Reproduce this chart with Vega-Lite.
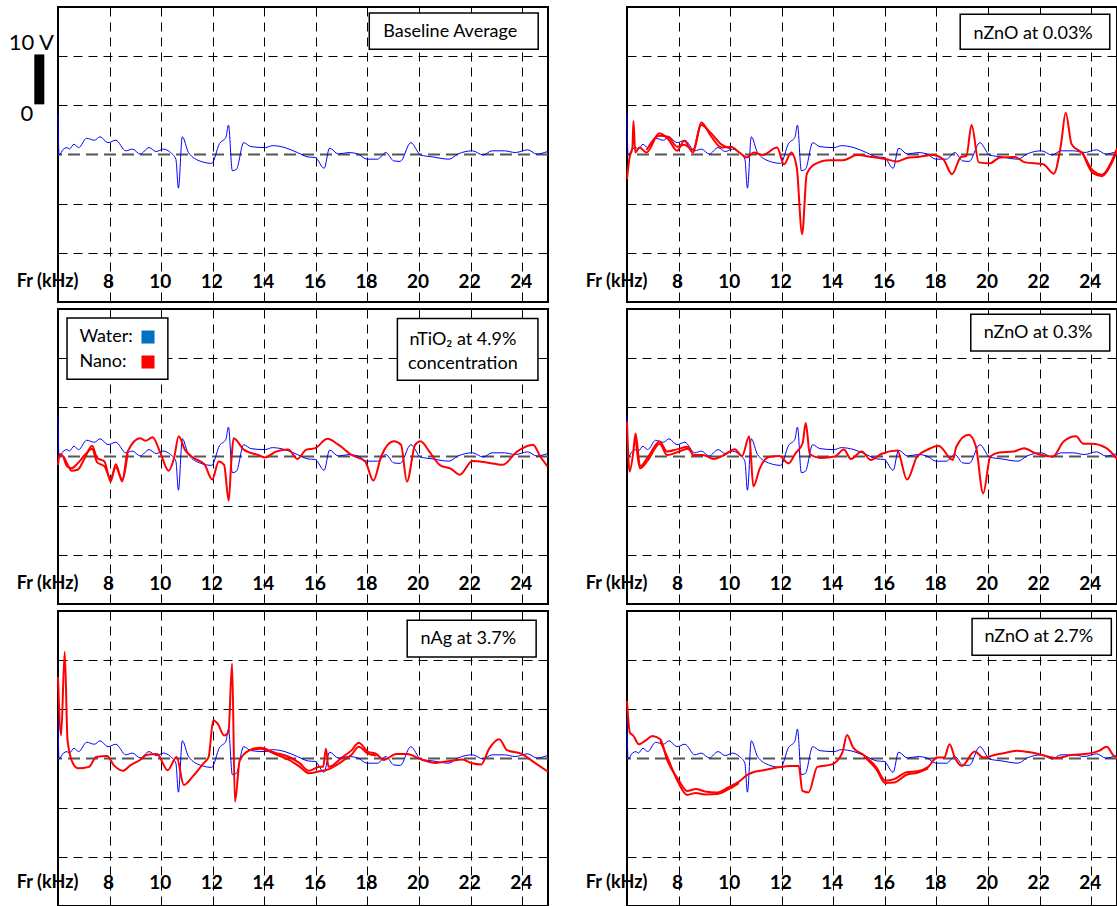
{
 "$schema": "https://vega.github.io/schema/vega-lite/v6.json",
 "autosize": {"type": "pad"},
 "padding": {"left": 7, "top": 6, "right": 0, "bottom": 0},
 "background": "white",
 "bounds": "flush",
 "columns": 2,
 "spacing": {"row": 7, "column": 79},
 "datasets": {
  "water": [
   {"f":6.0,"v":8.2},{"f":6.04,"v":-0.1},{"f":6.21,"v":1.1},{"f":6.35,"v":1.4},{"f":6.44,"v":1.1},{"f":6.62,"v":2.1},{"f":6.8,"v":1.4},{"f":7.11,"v":3.3},{"f":7.41,"v":2.9},{"f":7.63,"v":3.6},{"f":7.94,"v":2.4},{"f":8.24,"v":2.9},{"f":8.63,"v":0.75},{"f":8.88,"v":1.1},{"f":9.19,"v":0.1},{"f":9.53,"v":1.4},{"f":9.81,"v":0.6},{"f":10.09,"v":1.1},{"f":10.36,"v":0.4},{"f":10.57,"v":-0.95},{"f":10.67,"v":-6.85},{"f":10.82,"v":3.6},{"f":11.06,"v":0.4},{"f":11.54,"v":-1.4},{"f":11.96,"v":-1.8},{"f":12.26,"v":2.2},{"f":12.51,"v":3.5},{"f":12.61,"v":6.0},{"f":12.76,"v":-3.3},{"f":12.92,"v":-3.0},{"f":13.2,"v":2.4},{"f":13.48,"v":1.6},{"f":14.03,"v":1.4},{"f":14.31,"v":1.8},{"f":14.8,"v":1.4},{"f":15.28,"v":0.4},{"f":15.7,"v":-0.5},{"f":15.97,"v":-0.6},{"f":16.32,"v":-2.8},{"f":16.53,"v":1.3},{"f":16.87,"v":0.1},{"f":17.29,"v":0.4},{"f":17.63,"v":0.1},{"f":17.98,"v":-0.95},{"f":18.39,"v":-0.95},{"f":18.71,"v":0.4},{"f":19.02,"v":-1.3},{"f":19.27,"v":-1.4},{"f":19.68,"v":2.4},{"f":20.06,"v":-0.1},{"f":20.54,"v":-0.5},{"f":21.16,"v":-0.95},{"f":21.51,"v":0.1},{"f":22.07,"v":0.75},{"f":22.48,"v":-0.1},{"f":22.83,"v":0.75},{"f":23.31,"v":0.75},{"f":23.73,"v":0.4},{"f":24.21,"v":0.95},{"f":24.56,"v":0.1},{"f":24.98,"v":0.6}
  ],
  "nano": [
   {"panel":"zn003","run":"a","f":6.0,"v":-5.0},{"panel":"zn003","run":"a","f":6.1,"v":-0.6},{"panel":"zn003","run":"a","f":6.21,"v":1.4},{"panel":"zn003","run":"a","f":6.25,"v":6.8},{"panel":"zn003","run":"a","f":6.32,"v":0.4},{"panel":"zn003","run":"a","f":6.48,"v":1.4},{"panel":"zn003","run":"a","f":6.76,"v":0.4},{"panel":"zn003","run":"a","f":7.25,"v":4.3},{"panel":"zn003","run":"a","f":7.6,"v":3.1},{"panel":"zn003","run":"a","f":7.94,"v":0.75},{"panel":"zn003","run":"a","f":8.22,"v":2.8},{"panel":"zn003","run":"a","f":8.56,"v":0.4},{"panel":"zn003","run":"a","f":8.88,"v":6.5},{"panel":"zn003","run":"a","f":9.25,"v":3.8},{"panel":"zn003","run":"a","f":9.67,"v":1.4},{"panel":"zn003","run":"a","f":10.02,"v":1.6},{"panel":"zn003","run":"a","f":10.36,"v":0.4},{"panel":"zn003","run":"a","f":10.64,"v":-0.6},{"panel":"zn003","run":"a","f":10.92,"v":0.4},{"panel":"zn003","run":"a","f":11.26,"v":-0.1},{"panel":"zn003","run":"a","f":11.82,"v":1.4},{"panel":"zn003","run":"a","f":12.09,"v":-2.0},{"panel":"zn003","run":"a","f":12.37,"v":0.4},{"panel":"zn003","run":"a","f":12.58,"v":-2.6},{"panel":"zn003","run":"a","f":12.79,"v":-16.2},{"panel":"zn003","run":"a","f":12.97,"v":-4.0},{"panel":"zn003","run":"a","f":13.27,"v":-2.0},{"panel":"zn003","run":"a","f":13.83,"v":-1.15},{"panel":"zn003","run":"a","f":14.38,"v":-1.15},{"panel":"zn003","run":"a","f":14.93,"v":-0.1},{"panel":"zn003","run":"a","f":15.49,"v":-0.5},{"panel":"zn003","run":"a","f":16.04,"v":-0.95},{"panel":"zn003","run":"a","f":16.46,"v":-1.4},{"panel":"zn003","run":"a","f":16.94,"v":-0.6},{"panel":"zn003","run":"a","f":17.29,"v":-0.5},{"panel":"zn003","run":"a","f":17.84,"v":-0.1},{"panel":"zn003","run":"a","f":18.26,"v":-0.95},{"panel":"zn003","run":"a","f":18.6,"v":-4.0},{"panel":"zn003","run":"a","f":18.95,"v":-0.5},{"panel":"zn003","run":"a","f":19.16,"v":-0.3},{"panel":"zn003","run":"a","f":19.36,"v":6.0},{"panel":"zn003","run":"a","f":19.64,"v":-1.6},{"panel":"zn003","run":"a","f":20.06,"v":-1.8},{"panel":"zn003","run":"a","f":20.47,"v":-0.6},{"panel":"zn003","run":"a","f":21.02,"v":-0.5},{"panel":"zn003","run":"a","f":21.44,"v":-1.6},{"panel":"zn003","run":"a","f":22.14,"v":-2.0},{"panel":"zn003","run":"a","f":22.55,"v":-3.9},{"panel":"zn003","run":"a","f":22.83,"v":2.1},{"panel":"zn003","run":"a","f":23.01,"v":8.5},{"panel":"zn003","run":"a","f":23.24,"v":2.1},{"panel":"zn003","run":"a","f":23.66,"v":0.2},{"panel":"zn003","run":"a","f":24.07,"v":-3.3},{"panel":"zn003","run":"a","f":24.42,"v":-4.1},{"panel":"zn003","run":"a","f":24.77,"v":-1.6},{"panel":"zn003","run":"a","f":25.0,"v":1.2},
   {"panel":"zn003","run":"b","f":6.76,"v":0.9},{"panel":"zn003","run":"b","f":7.25,"v":3.8},{"panel":"zn003","run":"b","f":7.6,"v":3.6},{"panel":"zn003","run":"b","f":7.94,"v":1.6},{"panel":"zn003","run":"b","f":8.22,"v":2.0},{"panel":"zn003","run":"b","f":8.56,"v":0.9},{"panel":"zn003","run":"b","f":8.88,"v":6.0},{"panel":"zn003","run":"b","f":9.25,"v":4.4},{"panel":"zn003","run":"b","f":9.67,"v":2.0},{"panel":"zn003","run":"b","f":10.02,"v":1.2},
   {"panel":"zn003","run":"c","f":23.66,"v":0.6},{"panel":"zn003","run":"c","f":24.07,"v":-3.8},{"panel":"zn003","run":"c","f":24.42,"v":-4.4},{"panel":"zn003","run":"c","f":24.77,"v":-2.0},{"panel":"zn003","run":"c","f":25.0,"v":0.8},

   {"panel":"ti","run":"a","f":6.0,"v":-1.7},{"panel":"ti","run":"a","f":6.07,"v":0.5},{"panel":"ti","run":"a","f":6.21,"v":0},{"panel":"ti","run":"a","f":6.35,"v":-1.4},{"panel":"ti","run":"a","f":6.53,"v":-2.9},{"panel":"ti","run":"a","f":6.76,"v":-2.7},{"panel":"ti","run":"a","f":7.04,"v":-0.3},{"panel":"ti","run":"a","f":7.32,"v":2.2},{"panel":"ti","run":"a","f":7.52,"v":-0.3},{"panel":"ti","run":"a","f":7.8,"v":-1.0},{"panel":"ti","run":"a","f":8.04,"v":-5.1},{"panel":"ti","run":"a","f":8.24,"v":-1.6},{"panel":"ti","run":"a","f":8.49,"v":-5.1},{"panel":"ti","run":"a","f":8.7,"v":1.0},{"panel":"ti","run":"a","f":9.19,"v":3.7},{"panel":"ti","run":"a","f":9.39,"v":3.2},{"panel":"ti","run":"a","f":9.67,"v":3.9},{"panel":"ti","run":"a","f":9.95,"v":1.0},{"panel":"ti","run":"a","f":10.29,"v":-2.9},{"panel":"ti","run":"a","f":10.5,"v":-0.3},{"panel":"ti","run":"a","f":10.68,"v":4.1},{"panel":"ti","run":"a","f":10.92,"v":1.4},{"panel":"ti","run":"a","f":11.26,"v":-0.3},{"panel":"ti","run":"a","f":11.68,"v":-1.6},{"panel":"ti","run":"a","f":11.98,"v":-4.7},{"panel":"ti","run":"a","f":12.23,"v":-1.0},{"panel":"ti","run":"a","f":12.44,"v":-1.7},{"panel":"ti","run":"a","f":12.62,"v":-9.0},{"panel":"ti","run":"a","f":12.72,"v":-1.0},{"panel":"ti","run":"a","f":12.81,"v":3.7},{"panel":"ti","run":"a","f":13.2,"v":1.4},{"panel":"ti","run":"a","f":13.76,"v":0.3},{"panel":"ti","run":"a","f":14.03,"v":-0.2},{"panel":"ti","run":"a","f":14.45,"v":1.0},{"panel":"ti","run":"a","f":14.93,"v":1.4},{"panel":"ti","run":"a","f":15.28,"v":-0.5},{"panel":"ti","run":"a","f":15.63,"v":1.4},{"panel":"ti","run":"a","f":15.97,"v":1.7},{"panel":"ti","run":"a","f":16.45,"v":3.6},{"panel":"ti","run":"a","f":16.87,"v":2.4},{"panel":"ti","run":"a","f":17.42,"v":0.2},{"panel":"ti","run":"a","f":17.91,"v":-1.0},{"panel":"ti","run":"a","f":18.23,"v":-4.9},{"panel":"ti","run":"a","f":18.53,"v":0},{"panel":"ti","run":"a","f":19.02,"v":3.1},{"panel":"ti","run":"a","f":19.3,"v":2.4},{"panel":"ti","run":"a","f":19.53,"v":-5.1},{"panel":"ti","run":"a","f":19.85,"v":2.4},{"panel":"ti","run":"a","f":20.06,"v":3.1},{"panel":"ti","run":"a","f":20.4,"v":1.0},{"panel":"ti","run":"a","f":20.82,"v":-1.8},{"panel":"ti","run":"a","f":21.24,"v":-2.5},{"panel":"ti","run":"a","f":21.58,"v":-3.7},{"panel":"ti","run":"a","f":22.07,"v":-0.9},{"panel":"ti","run":"a","f":22.62,"v":-1.2},{"panel":"ti","run":"a","f":23.24,"v":-1.7},{"panel":"ti","run":"a","f":23.8,"v":1.0},{"panel":"ti","run":"a","f":24.42,"v":2.4},{"panel":"ti","run":"a","f":24.7,"v":0},{"panel":"ti","run":"a","f":24.98,"v":-2.0},
   {"panel":"ti","run":"b","f":6.21,"v":0},{"panel":"ti","run":"b","f":6.35,"v":-2.0},{"panel":"ti","run":"b","f":6.53,"v":-2.4},{"panel":"ti","run":"b","f":6.76,"v":-1.4},{"panel":"ti","run":"b","f":7.04,"v":0.3},{"panel":"ti","run":"b","f":7.32,"v":1.6},{"panel":"ti","run":"b","f":7.52,"v":-1.2},{"panel":"ti","run":"b","f":7.8,"v":-2.0},{"panel":"ti","run":"b","f":8.04,"v":-4.5},{"panel":"ti","run":"b","f":8.24,"v":-2.2},{"panel":"ti","run":"b","f":8.49,"v":-4.6},{"panel":"ti","run":"b","f":8.7,"v":0.6},

   {"panel":"zn03","run":"a","f":6.0,"v":7.1},{"panel":"zn03","run":"a","f":6.1,"v":-3.05},{"panel":"zn03","run":"a","f":6.24,"v":0.7},{"panel":"zn03","run":"a","f":6.33,"v":4.7},{"panel":"zn03","run":"a","f":6.51,"v":-2.0},{"panel":"zn03","run":"a","f":6.79,"v":-0.3},{"panel":"zn03","run":"a","f":7.27,"v":3.05},{"panel":"zn03","run":"a","f":7.55,"v":1.0},{"panel":"zn03","run":"a","f":7.97,"v":1.5},{"panel":"zn03","run":"a","f":8.35,"v":2.0},{"panel":"zn03","run":"a","f":8.59,"v":0.3},{"panel":"zn03","run":"a","f":8.94,"v":0.3},{"panel":"zn03","run":"a","f":9.35,"v":-0.5},{"panel":"zn03","run":"a","f":9.77,"v":0.3},{"panel":"zn03","run":"a","f":10.18,"v":1.5},{"panel":"zn03","run":"a","f":10.46,"v":0.1},{"panel":"zn03","run":"a","f":10.74,"v":4.1},{"panel":"zn03","run":"a","f":10.9,"v":-6.1},{"panel":"zn03","run":"a","f":11.15,"v":-2.4},{"panel":"zn03","run":"a","f":11.5,"v":-0.1},{"panel":"zn03","run":"a","f":11.91,"v":0.1},{"panel":"zn03","run":"a","f":12.26,"v":-1.4},{"panel":"zn03","run":"a","f":12.54,"v":0.7},{"panel":"zn03","run":"a","f":12.81,"v":2.7},{"panel":"zn03","run":"a","f":12.93,"v":6.8},{"panel":"zn03","run":"a","f":13.09,"v":0.5},{"panel":"zn03","run":"a","f":13.51,"v":-0.3},{"panel":"zn03","run":"a","f":14.06,"v":0},{"panel":"zn03","run":"a","f":14.41,"v":1.4},{"panel":"zn03","run":"a","f":14.68,"v":-0.5},{"panel":"zn03","run":"a","f":15.1,"v":1.0},{"panel":"zn03","run":"a","f":15.45,"v":-0.7},{"panel":"zn03","run":"a","f":15.86,"v":0.5},{"panel":"zn03","run":"a","f":16.48,"v":1.2},{"panel":"zn03","run":"a","f":16.86,"v":-4.7},{"panel":"zn03","run":"a","f":17.25,"v":0},{"panel":"zn03","run":"a","f":17.66,"v":1.4},{"panel":"zn03","run":"a","f":18.08,"v":2.2},{"panel":"zn03","run":"a","f":18.63,"v":-0.7},{"panel":"zn03","run":"a","f":18.77,"v":2.0},{"panel":"zn03","run":"a","f":19.25,"v":4.4},{"panel":"zn03","run":"a","f":19.53,"v":2.0},{"panel":"zn03","run":"a","f":19.81,"v":-7.5},{"panel":"zn03","run":"a","f":20.09,"v":0},{"panel":"zn03","run":"a","f":20.43,"v":0.8},{"panel":"zn03","run":"a","f":20.99,"v":1.0},{"panel":"zn03","run":"a","f":21.4,"v":1.7},{"panel":"zn03","run":"a","f":21.82,"v":0.7},{"panel":"zn03","run":"a","f":22.51,"v":0},{"panel":"zn03","run":"a","f":22.93,"v":3.05},{"panel":"zn03","run":"a","f":23.41,"v":4.1},{"panel":"zn03","run":"a","f":23.69,"v":2.6},{"panel":"zn03","run":"a","f":24.03,"v":2.6},{"panel":"zn03","run":"a","f":24.59,"v":1.7},{"panel":"zn03","run":"a","f":25.0,"v":-0.5},
   {"panel":"zn03","run":"b","f":6.33,"v":4.2},{"panel":"zn03","run":"b","f":6.51,"v":-2.4},{"panel":"zn03","run":"b","f":6.79,"v":-0.9},{"panel":"zn03","run":"b","f":7.27,"v":2.6},{"panel":"zn03","run":"b","f":7.55,"v":0.3},{"panel":"zn03","run":"b","f":7.97,"v":0.9},{"panel":"zn03","run":"b","f":8.35,"v":1.6},{"panel":"zn03","run":"b","f":8.59,"v":0.0},

   {"panel":"ag","run":"a","f":6.0,"v":16.6},{"panel":"ag","run":"a","f":6.12,"v":4.7},{"panel":"ag","run":"a","f":6.26,"v":21.7},{"panel":"ag","run":"a","f":6.37,"v":3.7},{"panel":"ag","run":"a","f":6.58,"v":-1.0},{"panel":"ag","run":"a","f":6.79,"v":-2.0},{"panel":"ag","run":"a","f":7.2,"v":-1.7},{"panel":"ag","run":"a","f":7.48,"v":0.3},{"panel":"ag","run":"a","f":7.9,"v":0.5},{"panel":"ag","run":"a","f":8.17,"v":-1.4},{"panel":"ag","run":"a","f":8.52,"v":-2.5},{"panel":"ag","run":"a","f":8.8,"v":-1.4},{"panel":"ag","run":"a","f":9.21,"v":-0.2},{"panel":"ag","run":"a","f":9.42,"v":0.7},{"panel":"ag","run":"a","f":9.84,"v":0.9},{"panel":"ag","run":"a","f":10.25,"v":-2.4},{"panel":"ag","run":"a","f":10.6,"v":0.3},{"panel":"ag","run":"a","f":10.88,"v":-5.4},{"panel":"ag","run":"a","f":11.22,"v":-3.7},{"panel":"ag","run":"a","f":11.64,"v":-1.0},{"panel":"ag","run":"a","f":11.84,"v":0.3},{"panel":"ag","run":"a","f":12.02,"v":7.8},{"panel":"ag","run":"a","f":12.19,"v":7.1},{"panel":"ag","run":"a","f":12.44,"v":4.7},{"panel":"ag","run":"a","f":12.61,"v":5.4},{"panel":"ag","run":"a","f":12.75,"v":19.3},{"panel":"ag","run":"a","f":12.86,"v":-8.8},{"panel":"ag","run":"a","f":13.05,"v":-0.3},{"panel":"ag","run":"a","f":13.44,"v":1.7},{"panel":"ag","run":"a","f":13.85,"v":2.2},{"panel":"ag","run":"a","f":14.41,"v":1.2},{"panel":"ag","run":"a","f":14.96,"v":0.3},{"panel":"ag","run":"a","f":15.38,"v":-1.0},{"panel":"ag","run":"a","f":15.72,"v":-2.5},{"panel":"ag","run":"a","f":16.14,"v":-1.7},{"panel":"ag","run":"a","f":16.28,"v":-1.7},{"panel":"ag","run":"a","f":16.39,"v":2.0},{"panel":"ag","run":"a","f":16.49,"v":-1.7},{"panel":"ag","run":"a","f":17.04,"v":0.3},{"panel":"ag","run":"a","f":17.39,"v":1.7},{"panel":"ag","run":"a","f":17.66,"v":3.2},{"panel":"ag","run":"a","f":18.01,"v":1.4},{"panel":"ag","run":"a","f":18.35,"v":0.9},{"panel":"ag","run":"a","f":18.63,"v":-0.3},{"panel":"ag","run":"a","f":19.12,"v":0.9},{"panel":"ag","run":"a","f":19.53,"v":0.9},{"panel":"ag","run":"a","f":20.09,"v":-0.2},{"panel":"ag","run":"a","f":20.64,"v":-0.9},{"panel":"ag","run":"a","f":21.2,"v":-0.5},{"panel":"ag","run":"a","f":21.68,"v":-0.2},{"panel":"ag","run":"a","f":22.02,"v":-0.9},{"panel":"ag","run":"a","f":22.41,"v":-1.2},{"panel":"ag","run":"a","f":22.72,"v":2.0},{"panel":"ag","run":"a","f":23.11,"v":3.9},{"panel":"ag","run":"a","f":23.41,"v":1.7},{"panel":"ag","run":"a","f":23.96,"v":1.0},{"panel":"ag","run":"a","f":24.52,"v":-1.0},{"panel":"ag","run":"a","f":25.0,"v":-2.7},
   {"panel":"ag","run":"b","f":13.44,"v":1.7},{"panel":"ag","run":"b","f":13.85,"v":2.0},{"panel":"ag","run":"b","f":14.41,"v":0.9},{"panel":"ag","run":"b","f":14.96,"v":-0.3},{"panel":"ag","run":"b","f":15.38,"v":-1.7},{"panel":"ag","run":"b","f":15.72,"v":-3.0},{"panel":"ag","run":"b","f":16.14,"v":-2.6},{"panel":"ag","run":"b","f":16.49,"v":-2.2},{"panel":"ag","run":"b","f":17.04,"v":-0.5},{"panel":"ag","run":"b","f":17.39,"v":0.8},{"panel":"ag","run":"b","f":17.66,"v":2.4},{"panel":"ag","run":"b","f":18.01,"v":1.0},{"panel":"ag","run":"b","f":18.35,"v":0.6},

   {"panel":"zn27","run":"a","f":6.0,"v":11.7},{"panel":"zn27","run":"a","f":6.11,"v":5.3},{"panel":"zn27","run":"a","f":6.25,"v":4.6},{"panel":"zn27","run":"a","f":6.46,"v":2.9},{"panel":"zn27","run":"a","f":6.73,"v":3.7},{"panel":"zn27","run":"a","f":6.98,"v":4.6},{"panel":"zn27","run":"a","f":7.29,"v":3.9},{"panel":"zn27","run":"a","f":7.57,"v":-0.5},{"panel":"zn27","run":"a","f":7.98,"v":-4.2},{"panel":"zn27","run":"a","f":8.33,"v":-6.6},{"panel":"zn27","run":"a","f":8.67,"v":-6.2},{"panel":"zn27","run":"a","f":9.02,"v":-6.7},{"panel":"zn27","run":"a","f":9.5,"v":-6.9},{"panel":"zn27","run":"a","f":9.92,"v":-5.9},{"panel":"zn27","run":"a","f":10.34,"v":-4.7},{"panel":"zn27","run":"a","f":10.68,"v":-3.3},{"panel":"zn27","run":"a","f":10.89,"v":-2.8},{"panel":"zn27","run":"a","f":11.3,"v":-2.4},{"panel":"zn27","run":"a","f":11.86,"v":-1.8},{"panel":"zn27","run":"a","f":12.34,"v":-1.5},{"panel":"zn27","run":"a","f":12.66,"v":-1.5},{"panel":"zn27","run":"a","f":12.8,"v":-6.6},{"panel":"zn27","run":"a","f":13.04,"v":-6.9},{"panel":"zn27","run":"a","f":13.38,"v":-1.7},{"panel":"zn27","run":"a","f":13.94,"v":-1.2},{"panel":"zn27","run":"a","f":14.35,"v":1.2},{"panel":"zn27","run":"a","f":14.53,"v":4.8},{"panel":"zn27","run":"a","f":14.77,"v":2.2},{"panel":"zn27","run":"a","f":15.18,"v":0.7},{"panel":"zn27","run":"a","f":15.67,"v":-1.8},{"panel":"zn27","run":"a","f":16.01,"v":-4.5},{"panel":"zn27","run":"a","f":16.36,"v":-4.2},{"panel":"zn27","run":"a","f":16.84,"v":-2.8},{"panel":"zn27","run":"a","f":17.26,"v":-2.6},{"panel":"zn27","run":"a","f":17.68,"v":-1.7},{"panel":"zn27","run":"a","f":18.02,"v":0.2},{"panel":"zn27","run":"a","f":18.3,"v":0.2},{"panel":"zn27","run":"a","f":18.51,"v":2.9},{"panel":"zn27","run":"a","f":18.71,"v":0.2},{"panel":"zn27","run":"a","f":18.99,"v":-1.5},{"panel":"zn27","run":"a","f":19.48,"v":1.4},{"panel":"zn27","run":"a","f":19.82,"v":0.2},{"panel":"zn27","run":"a","f":20.24,"v":0.7},{"panel":"zn27","run":"a","f":20.72,"v":1.2},{"panel":"zn27","run":"a","f":21.13,"v":1.6},{"panel":"zn27","run":"a","f":21.69,"v":1.2},{"panel":"zn27","run":"a","f":22.1,"v":0.7},{"panel":"zn27","run":"a","f":22.66,"v":0.1},{"panel":"zn27","run":"a","f":23.22,"v":0.7},{"panel":"zn27","run":"a","f":23.77,"v":0.9},{"panel":"zn27","run":"a","f":24.32,"v":1.6},{"panel":"zn27","run":"a","f":24.6,"v":2.4},{"panel":"zn27","run":"a","f":24.88,"v":0.5},{"panel":"zn27","run":"a","f":25.0,"v":0.2},
   {"panel":"zn27","run":"b","f":7.29,"v":3.6},{"panel":"zn27","run":"b","f":7.57,"v":0.2},{"panel":"zn27","run":"b","f":7.98,"v":-4.8},{"panel":"zn27","run":"b","f":8.33,"v":-7.4},{"panel":"zn27","run":"b","f":8.67,"v":-7.0},{"panel":"zn27","run":"b","f":9.02,"v":-7.3},{"panel":"zn27","run":"b","f":9.5,"v":-7.2},{"panel":"zn27","run":"b","f":9.92,"v":-6.3},{"panel":"zn27","run":"b","f":10.34,"v":-5.0},
   {"panel":"zn27","run":"c","f":15.18,"v":0.4},{"panel":"zn27","run":"c","f":15.67,"v":-2.2},{"panel":"zn27","run":"c","f":16.01,"v":-5.0},{"panel":"zn27","run":"c","f":16.36,"v":-4.9},{"panel":"zn27","run":"c","f":16.84,"v":-3.3},{"panel":"zn27","run":"c","f":17.26,"v":-2.9},{"panel":"zn27","run":"c","f":17.68,"v":-2.0}
  ],
  "ticks": [{"f":8},{"f":10},{"f":12},{"f":14},{"f":16},{"f":18},{"f":20},{"f":22},{"f":24}]
 },
 "concat": [
   {"width": 490, "height": 295, "layer": [
    {"data": {"values": [{}]}, "mark": {"type": "rule", "color": "#555555", "strokeDash": [12, 6], "strokeWidth": 2}, "encoding": {"y": {"datum": 0, "scale": {"domain": [-30, 30], "nice": false, "zero": false}}}},
    {"data": {"name": "water"}, "mark": {"type": "line", "color": "#0000ff", "strokeWidth": 1, "interpolate": "monotone"}, "encoding": {"x": {"field": "f", "type": "quantitative", "title": null, "scale": {"domain": [6, 25], "nice": false, "zero": false}, "axis": {"values": [8,10,12,14,16,18,20,22,24]}}, "y": {"field": "v", "type": "quantitative", "title": null, "axis": {"values": [-20,-10,10,20]}}}},
    {"data": {"name": "ticks"}, "mark": {"type": "text", "font": "Lato", "fontWeight": "bold", "fontSize": 19, "baseline": "middle", "dx": -1}, "encoding": {"x": {"field": "f", "type": "quantitative", "title": null}, "y": {"datum": -25.9}, "text": {"field": "f", "type": "quantitative"}}},
    {"data": {"values": [{}]}, "mark": {"type": "text", "text": "Fr (kHz)", "font": "Lato", "fontWeight": "bold", "fontSize": 18, "baseline": "middle"}, "encoding": {"x": {"datum": 5.6}, "y": {"datum": -25.9}}},
    {"data": {"values": [{}]}, "mark": {"type": "rect", "fill": "white", "stroke": "#000", "strokeWidth": 1.5}, "encoding": {"x": {"datum": 18.07}, "x2": {"datum": 24.62}, "y": {"datum": 28.78}, "y2": {"datum": 21.4}}},
    {"data": {"values": [{}]}, "mark": {"type": "text", "text": "Baseline Average", "font": "Lato", "fontSize": 18, "baseline": "middle"}, "encoding": {"x": {"datum": 21.21}, "y": {"datum": 24.85}}},
    {"data": {"values": [{}]}, "mark": {"type": "text", "text": "10 V", "font": "Lato", "fontSize": 22, "baseline": "middle"}, "encoding": {"x": {"datum": 4.965}, "y": {"datum": 22.6}}},
    {"data": {"values": [{}]}, "mark": {"type": "text", "text": "0", "font": "Lato", "fontSize": 22, "baseline": "middle"}, "encoding": {"x": {"datum": 4.79}, "y": {"datum": 8.2}}},
    {"data": {"values": [{}]}, "mark": {"type": "rule", "color": "#000", "strokeWidth": 10}, "encoding": {"x": {"datum": 5.275}, "y": {"datum": 20.35}, "y2": {"datum": 10.2}}}
   ]},
   {"width": 490, "height": 295, "layer": [
    {"data": {"values": [{}]}, "mark": {"type": "rule", "color": "#555555", "strokeDash": [12, 6], "strokeWidth": 2}, "encoding": {"y": {"datum": 0, "scale": {"domain": [-30, 30], "nice": false, "zero": false}}}},
    {"data": {"name": "water"}, "mark": {"type": "line", "color": "#0000ff", "strokeWidth": 1, "interpolate": "monotone"}, "encoding": {"x": {"field": "f", "type": "quantitative", "title": null, "scale": {"domain": [6, 25], "nice": false, "zero": false}, "axis": {"values": [8,10,12,14,16,18,20,22,24]}}, "y": {"field": "v", "type": "quantitative", "title": null, "axis": {"values": [-20,-10,10,20]}}}},
    {"data": {"name": "nano"}, "transform": [{"filter": "datum.panel === 'zn003'"}], "mark": {"type": "line", "color": "#ff0000", "strokeWidth": 2, "interpolate": "monotone"}, "encoding": {"x": {"field": "f", "type": "quantitative", "title": null}, "y": {"field": "v", "type": "quantitative", "title": null}, "detail": {"field": "run"}}},
    {"data": {"name": "ticks"}, "mark": {"type": "text", "font": "Lato", "fontWeight": "bold", "fontSize": 19, "baseline": "middle", "dx": -1}, "encoding": {"x": {"field": "f", "type": "quantitative", "title": null}, "y": {"datum": -25.9}, "text": {"field": "f", "type": "quantitative"}}},
    {"data": {"values": [{}]}, "mark": {"type": "text", "text": "Fr (kHz)", "font": "Lato", "fontWeight": "bold", "fontSize": 18, "baseline": "middle"}, "encoding": {"x": {"datum": 5.6}, "y": {"datum": -25.9}}},
    {"data": {"values": [{}]}, "mark": {"type": "rect", "fill": "white", "stroke": "#000", "strokeWidth": 1.5}, "encoding": {"x": {"datum": 18.92}, "x2": {"datum": 24.72}, "y": {"datum": 28.52}, "y2": {"datum": 21.4}}},
    {"data": {"values": [{}]}, "mark": {"type": "text", "text": "nZnO at 0.03%", "font": "Lato", "fontSize": 18, "baseline": "middle"}, "encoding": {"x": {"datum": 21.75}, "y": {"datum": 24.6}}}
   ]},
   {"width": 490, "height": 295, "layer": [
    {"data": {"values": [{}]}, "mark": {"type": "rule", "color": "#555555", "strokeDash": [12, 6], "strokeWidth": 2}, "encoding": {"y": {"datum": 0, "scale": {"domain": [-30, 30], "nice": false, "zero": false}}}},
    {"data": {"name": "water"}, "mark": {"type": "line", "color": "#0000ff", "strokeWidth": 1, "interpolate": "monotone"}, "encoding": {"x": {"field": "f", "type": "quantitative", "title": null, "scale": {"domain": [6, 25], "nice": false, "zero": false}, "axis": {"values": [8,10,12,14,16,18,20,22,24]}}, "y": {"field": "v", "type": "quantitative", "title": null, "axis": {"values": [-20,-10,10,20]}}}},
    {"data": {"name": "nano"}, "transform": [{"filter": "datum.panel === 'ti'"}], "mark": {"type": "line", "color": "#ff0000", "strokeWidth": 2, "interpolate": "monotone"}, "encoding": {"x": {"field": "f", "type": "quantitative", "title": null}, "y": {"field": "v", "type": "quantitative", "title": null}, "detail": {"field": "run"}}},
    {"data": {"name": "ticks"}, "mark": {"type": "text", "font": "Lato", "fontWeight": "bold", "fontSize": 19, "baseline": "middle", "dx": -1}, "encoding": {"x": {"field": "f", "type": "quantitative", "title": null}, "y": {"datum": -25.9}, "text": {"field": "f", "type": "quantitative"}}},
    {"data": {"values": [{}]}, "mark": {"type": "text", "text": "Fr (kHz)", "font": "Lato", "fontWeight": "bold", "fontSize": 18, "baseline": "middle"}, "encoding": {"x": {"datum": 5.6}, "y": {"datum": -25.9}}},
    {"data": {"values": [{}]}, "mark": {"type": "rect", "fill": "white", "stroke": "#000", "strokeWidth": 1.5}, "encoding": {"x": {"datum": 19.16}, "x2": {"datum": 24.61}, "y": {"datum": 28.05}, "y2": {"datum": 15.5}}},
    {"data": {"values": [{}]}, "mark": {"type": "text", "text": "nTiO₂ at 4.9%", "font": "Lato", "fontSize": 18, "baseline": "middle"}, "encoding": {"x": {"datum": 21.7}, "y": {"datum": 23.78}}},
    {"data": {"values": [{}]}, "mark": {"type": "text", "text": "concentration", "font": "Lato", "fontSize": 18, "baseline": "middle"}, "encoding": {"x": {"datum": 21.7}, "y": {"datum": 18.9}}},
    {"data": {"values": [{}]}, "mark": {"type": "rect", "fill": "white", "stroke": "#000", "strokeWidth": 1.5}, "encoding": {"x": {"datum": 6.35}, "x2": {"datum": 10.26}, "y": {"datum": 28.17}, "y2": {"datum": 15.7}}},
    {"data": {"values": [{}]}, "mark": {"type": "text", "text": "Water:", "font": "Lato", "fontSize": 18, "baseline": "middle", "align": "left"}, "encoding": {"x": {"datum": 6.83}, "y": {"datum": 24.3}}},
    {"data": {"values": [{}]}, "mark": {"type": "text", "text": "Nano:", "font": "Lato", "fontSize": 18, "baseline": "middle", "align": "left"}, "encoding": {"x": {"datum": 6.83}, "y": {"datum": 19.22}}},
    {"data": {"values": [{}]}, "mark": {"type": "point", "shape": "square", "filled": true, "size": 170, "color": "#0070c0", "opacity": 1}, "encoding": {"x": {"datum": 9.49}, "y": {"datum": 24.3}}},
    {"data": {"values": [{}]}, "mark": {"type": "point", "shape": "square", "filled": true, "size": 170, "color": "#ff0000", "opacity": 1}, "encoding": {"x": {"datum": 9.49}, "y": {"datum": 19.22}}}
   ]},
   {"width": 490, "height": 295, "layer": [
    {"data": {"values": [{}]}, "mark": {"type": "rule", "color": "#555555", "strokeDash": [12, 6], "strokeWidth": 2}, "encoding": {"y": {"datum": 0, "scale": {"domain": [-30, 30], "nice": false, "zero": false}}}},
    {"data": {"name": "water"}, "mark": {"type": "line", "color": "#0000ff", "strokeWidth": 1, "interpolate": "monotone"}, "encoding": {"x": {"field": "f", "type": "quantitative", "title": null, "scale": {"domain": [6, 25], "nice": false, "zero": false}, "axis": {"values": [8,10,12,14,16,18,20,22,24]}}, "y": {"field": "v", "type": "quantitative", "title": null, "axis": {"values": [-20,-10,10,20]}}}},
    {"data": {"name": "nano"}, "transform": [{"filter": "datum.panel === 'zn03'"}], "mark": {"type": "line", "color": "#ff0000", "strokeWidth": 2, "interpolate": "monotone"}, "encoding": {"x": {"field": "f", "type": "quantitative", "title": null}, "y": {"field": "v", "type": "quantitative", "title": null}, "detail": {"field": "run"}}},
    {"data": {"name": "ticks"}, "mark": {"type": "text", "font": "Lato", "fontWeight": "bold", "fontSize": 19, "baseline": "middle", "dx": -1}, "encoding": {"x": {"field": "f", "type": "quantitative", "title": null}, "y": {"datum": -25.9}, "text": {"field": "f", "type": "quantitative"}}},
    {"data": {"values": [{}]}, "mark": {"type": "text", "text": "Fr (kHz)", "font": "Lato", "fontWeight": "bold", "fontSize": 18, "baseline": "middle"}, "encoding": {"x": {"datum": 5.6}, "y": {"datum": -25.9}}},
    {"data": {"values": [{}]}, "mark": {"type": "rect", "fill": "white", "stroke": "#000", "strokeWidth": 1.5}, "encoding": {"x": {"datum": 19.33}, "x2": {"datum": 24.72}, "y": {"datum": 28.92}, "y2": {"datum": 21.46}}},
    {"data": {"values": [{}]}, "mark": {"type": "text", "text": "nZnO at 0.3%", "font": "Lato", "fontSize": 18, "baseline": "middle"}, "encoding": {"x": {"datum": 21.94}, "y": {"datum": 25.06}}}
   ]},
   {"width": 490, "height": 295, "layer": [
    {"data": {"values": [{}]}, "mark": {"type": "rule", "color": "#555555", "strokeDash": [12, 6], "strokeWidth": 2}, "encoding": {"y": {"datum": 0, "scale": {"domain": [-30, 30], "nice": false, "zero": false}}}},
    {"data": {"name": "water"}, "mark": {"type": "line", "color": "#0000ff", "strokeWidth": 1, "interpolate": "monotone"}, "encoding": {"x": {"field": "f", "type": "quantitative", "title": null, "scale": {"domain": [6, 25], "nice": false, "zero": false}, "axis": {"values": [8,10,12,14,16,18,20,22,24]}}, "y": {"field": "v", "type": "quantitative", "title": null, "axis": {"values": [-20,-10,10,20]}}}},
    {"data": {"name": "nano"}, "transform": [{"filter": "datum.panel === 'ag'"}], "mark": {"type": "line", "color": "#ff0000", "strokeWidth": 2, "interpolate": "monotone"}, "encoding": {"x": {"field": "f", "type": "quantitative", "title": null}, "y": {"field": "v", "type": "quantitative", "title": null}, "detail": {"field": "run"}}},
    {"data": {"name": "ticks"}, "mark": {"type": "text", "font": "Lato", "fontWeight": "bold", "fontSize": 19, "baseline": "middle", "dx": -1}, "encoding": {"x": {"field": "f", "type": "quantitative", "title": null}, "y": {"datum": -25.4}, "text": {"field": "f", "type": "quantitative"}}},
    {"data": {"values": [{}]}, "mark": {"type": "text", "text": "Fr (kHz)", "font": "Lato", "fontWeight": "bold", "fontSize": 18, "baseline": "middle"}, "encoding": {"x": {"datum": 5.6}, "y": {"datum": -25.4}}},
    {"data": {"values": [{}]}, "mark": {"type": "rect", "fill": "white", "stroke": "#000", "strokeWidth": 1.5}, "encoding": {"x": {"datum": 19.54}, "x2": {"datum": 24.54}, "y": {"datum": 28.1}, "y2": {"datum": 20.64}}},
    {"data": {"values": [{}]}, "mark": {"type": "text", "text": "nAg at 3.7%", "font": "Lato", "fontSize": 18, "baseline": "middle"}, "encoding": {"x": {"datum": 21.91}, "y": {"datum": 24.3}}}
   ]},
   {"width": 490, "height": 295, "layer": [
    {"data": {"values": [{}]}, "mark": {"type": "rule", "color": "#555555", "strokeDash": [12, 6], "strokeWidth": 2}, "encoding": {"y": {"datum": 0, "scale": {"domain": [-30, 30], "nice": false, "zero": false}}}},
    {"data": {"name": "water"}, "mark": {"type": "line", "color": "#0000ff", "strokeWidth": 1, "interpolate": "monotone"}, "encoding": {"x": {"field": "f", "type": "quantitative", "title": null, "scale": {"domain": [6, 25], "nice": false, "zero": false}, "axis": {"values": [8,10,12,14,16,18,20,22,24]}}, "y": {"field": "v", "type": "quantitative", "title": null, "axis": {"values": [-20,-10,10,20]}}}},
    {"data": {"name": "nano"}, "transform": [{"filter": "datum.panel === 'zn27'"}], "mark": {"type": "line", "color": "#ff0000", "strokeWidth": 2, "interpolate": "monotone"}, "encoding": {"x": {"field": "f", "type": "quantitative", "title": null}, "y": {"field": "v", "type": "quantitative", "title": null}, "detail": {"field": "run"}}},
    {"data": {"name": "ticks"}, "mark": {"type": "text", "font": "Lato", "fontWeight": "bold", "fontSize": 19, "baseline": "middle", "dx": -1}, "encoding": {"x": {"field": "f", "type": "quantitative", "title": null}, "y": {"datum": -25.4}, "text": {"field": "f", "type": "quantitative"}}},
    {"data": {"values": [{}]}, "mark": {"type": "text", "text": "Fr (kHz)", "font": "Lato", "fontWeight": "bold", "fontSize": 18, "baseline": "middle"}, "encoding": {"x": {"datum": 5.6}, "y": {"datum": -25.4}}},
    {"data": {"values": [{}]}, "mark": {"type": "rect", "fill": "white", "stroke": "#000", "strokeWidth": 1.5}, "encoding": {"x": {"datum": 19.38}, "x2": {"datum": 24.78}, "y": {"datum": 28.45}, "y2": {"datum": 21.0}}},
    {"data": {"values": [{}]}, "mark": {"type": "text", "text": "nZnO at 2.7%", "font": "Lato", "fontSize": 18, "baseline": "middle"}, "encoding": {"x": {"datum": 21.97}, "y": {"datum": 24.71}}}
   ]}
 ],
 "config": {
  "view": {"stroke": "#000", "strokeWidth": 2},
  "axis": {"grid": true, "gridColor": "#000", "gridDash": [9, 6], "gridWidth": 1, "labels": false, "ticks": false, "domain": false, "titleOpacity": 0, "titlePadding": 0},
  "text": {"color": "#000"}
 }
}
